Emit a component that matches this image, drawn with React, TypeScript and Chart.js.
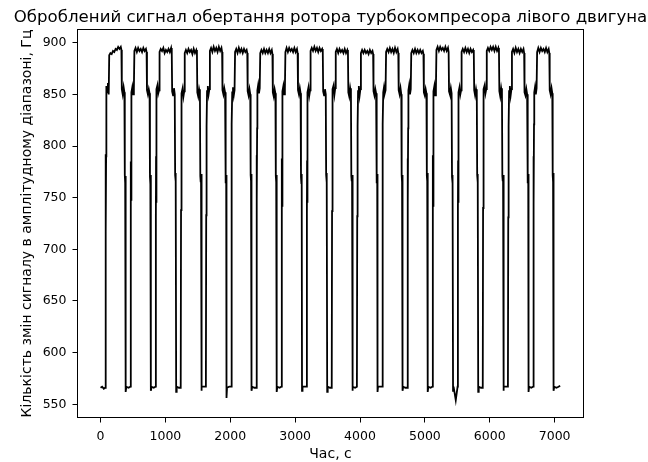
import React, { useEffect, useRef } from "react";
import { Chart, registerables } from "chart.js";

Chart.register(...registerables);

const chartTitle = "Оброблений сигнал обертання ротора турбокомпресора лівого двигуна";
const xAxisLabel = "Час, с";
const yAxisLabel = "Кількість змін сигналу в амплітудному діапазоні, Гц";

const xTicks = [0, 1000, 2000, 3000, 4000, 5000, 6000, 7000];
const yTicks = [550, 600, 650, 700, 750, 800, 850, 900];

// time, s
const timeS = [
  0, 25, 50,
  72, 77, 80, 82, 86, 90, 102, 114, 126, 134, 152, 172, 192, 212, 232, 252, 272, 292, 312, 322, 328, 342, 356, 368, 374, 380, 385, 390, 398, 432,
  460, 465, 468, 470, 474, 478, 490, 502, 514, 522, 540, 560, 580, 600, 620, 640, 660, 680, 700, 710, 716, 730, 744, 756, 762, 768, 773, 778, 786, 820,
  848, 853, 856, 858, 862, 866, 878, 890, 902, 910, 928, 948, 968, 988, 1008, 1028, 1048, 1068, 1088, 1098, 1104, 1118, 1132, 1144, 1150, 1156, 1161, 1166, 1174, 1208,
  1236, 1241, 1244, 1246, 1250, 1254, 1266, 1278, 1290, 1298, 1316, 1336, 1356, 1376, 1396, 1416, 1436, 1456, 1476, 1486, 1492, 1506, 1520, 1532, 1538, 1544, 1549, 1554, 1562, 1596,
  1624, 1629, 1632, 1634, 1638, 1642, 1654, 1666, 1678, 1686, 1704, 1724, 1744, 1764, 1784, 1804, 1824, 1844, 1864, 1874, 1880, 1894, 1908, 1920, 1926, 1932, 1937, 1942, 1950, 1984,
  2012, 2017, 2020, 2022, 2026, 2030, 2042, 2054, 2066, 2074, 2092, 2112, 2132, 2152, 2172, 2192, 2212, 2232, 2252, 2262, 2268, 2282, 2296, 2308, 2314, 2320, 2325, 2330, 2338, 2372,
  2400, 2405, 2408, 2410, 2414, 2418, 2430, 2442, 2454, 2462, 2480, 2500, 2520, 2540, 2560, 2580, 2600, 2620, 2640, 2650, 2656, 2670, 2684, 2696, 2702, 2708, 2713, 2718, 2726, 2760,
  2788, 2793, 2796, 2798, 2802, 2806, 2818, 2830, 2842, 2850, 2868, 2888, 2908, 2928, 2948, 2968, 2988, 3008, 3028, 3038, 3044, 3058, 3072, 3084, 3090, 3096, 3101, 3106, 3114, 3148,
  3176, 3181, 3184, 3186, 3190, 3194, 3206, 3218, 3230, 3238, 3256, 3276, 3296, 3316, 3336, 3356, 3376, 3396, 3416, 3426, 3432, 3446, 3460, 3472, 3478, 3484, 3489, 3494, 3502, 3536,
  3564, 3569, 3572, 3574, 3578, 3582, 3594, 3606, 3618, 3626, 3644, 3664, 3684, 3704, 3724, 3744, 3764, 3784, 3804, 3814, 3820, 3834, 3848, 3860, 3866, 3872, 3877, 3882, 3890, 3924,
  3952, 3957, 3960, 3962, 3966, 3970, 3982, 3994, 4006, 4014, 4032, 4052, 4072, 4092, 4112, 4132, 4152, 4172, 4192, 4202, 4208, 4222, 4236, 4248, 4254, 4260, 4265, 4270, 4278, 4312,
  4340, 4345, 4348, 4350, 4354, 4358, 4370, 4382, 4394, 4402, 4420, 4440, 4460, 4480, 4500, 4520, 4540, 4560, 4580, 4590, 4596, 4610, 4624, 4636, 4642, 4648, 4653, 4658, 4666, 4700,
  4728, 4733, 4736, 4738, 4742, 4746, 4758, 4770, 4782, 4790, 4808, 4828, 4848, 4868, 4888, 4908, 4928, 4948, 4968, 4978, 4984, 4998, 5012, 5024, 5030, 5036, 5041, 5046, 5054, 5088,
  5116, 5121, 5124, 5126, 5130, 5134, 5146, 5158, 5170, 5178, 5196, 5216, 5236, 5256, 5276, 5296, 5316, 5336, 5356, 5366, 5372, 5386, 5400, 5412, 5418, 5424, 5429, 5434, 5442, 5476,
  5504, 5509, 5512, 5514, 5518, 5522, 5534, 5546, 5558, 5566, 5584, 5604, 5624, 5644, 5664, 5684, 5704, 5724, 5744, 5754, 5760, 5774, 5788, 5800, 5806, 5812, 5817, 5822, 5830, 5864,
  5892, 5897, 5900, 5902, 5906, 5910, 5922, 5934, 5946, 5954, 5972, 5992, 6012, 6032, 6052, 6072, 6092, 6112, 6132, 6142, 6148, 6162, 6176, 6188, 6194, 6200, 6205, 6210, 6218, 6252,
  6280, 6285, 6288, 6290, 6294, 6298, 6310, 6322, 6334, 6342, 6360, 6380, 6400, 6420, 6440, 6460, 6480, 6500, 6520, 6530, 6536, 6550, 6564, 6576, 6582, 6588, 6593, 6598, 6606, 6640,
  6668, 6673, 6676, 6678, 6682, 6686, 6698, 6710, 6722, 6730, 6748, 6768, 6788, 6808, 6828, 6848, 6868, 6888, 6908, 6918, 6924, 6938, 6952, 6964, 6970, 6976, 6981, 6986, 6994, 7028,
  7060, 7085,
];

// signal, Hz
const signalHz = [
  566, 567, 565,
  566, 720, 792, 716, 790, 858, 852, 861, 850, 888, 890, 889, 892, 891, 894, 893, 896, 894, 896, 893, 855, 850, 857, 852, 772, 764, 771, 562, 567, 566,
  567, 740, 785, 748, 818, 852, 857, 850, 856, 892, 895, 891, 895, 892, 894, 891, 895, 892, 894, 891, 854, 850, 855, 851, 770, 763, 772, 563, 567, 566,
  567, 730, 790, 745, 822, 855, 859, 851, 854, 891, 894, 892, 895, 890, 893, 891, 894, 891, 895, 890, 853, 849, 856, 850, 772, 766, 774, 562, 567, 566,
  566, 738, 786, 740, 815, 851, 856, 848, 853, 890, 893, 890, 894, 891, 893, 889, 894, 890, 893, 890, 852, 848, 855, 851, 771, 765, 773, 563, 567, 567,
  567, 733, 789, 744, 819, 853, 858, 850, 855, 892, 895, 891, 896, 892, 895, 891, 896, 892, 895, 891, 854, 850, 856, 852, 770, 764, 772, 556, 566, 567,
  567, 736, 787, 743, 821, 852, 857, 849, 854, 891, 894, 890, 895, 891, 894, 890, 894, 891, 893, 890, 853, 849, 855, 850, 772, 766, 773, 563, 567, 566,
  566, 731, 791, 746, 817, 854, 859, 851, 856, 890, 893, 890, 894, 890, 893, 890, 894, 890, 893, 889, 852, 848, 855, 851, 771, 765, 772, 562, 567, 566,
  567, 739, 788, 742, 820, 853, 858, 850, 855, 891, 895, 891, 895, 892, 894, 891, 895, 891, 894, 890, 854, 850, 856, 851, 770, 764, 773, 563, 567, 567,
  567, 734, 786, 745, 818, 852, 857, 849, 854, 892, 895, 892, 896, 892, 895, 891, 895, 892, 894, 891, 853, 849, 855, 850, 772, 765, 774, 562, 567, 566,
  566, 737, 790, 741, 822, 855, 859, 850, 856, 891, 894, 890, 894, 891, 893, 890, 894, 890, 893, 890, 852, 848, 856, 851, 771, 766, 772, 563, 567, 566,
  567, 732, 787, 744, 819, 853, 858, 849, 855, 890, 893, 890, 893, 890, 892, 889, 893, 890, 892, 889, 853, 849, 855, 851, 770, 764, 773, 562, 567, 567,
  567, 738, 789, 746, 821, 852, 857, 851, 854, 891, 894, 891, 895, 891, 894, 890, 895, 891, 894, 890, 854, 850, 856, 850, 772, 765, 772, 563, 567, 566,
  566, 735, 788, 743, 817, 854, 859, 850, 855, 890, 893, 890, 894, 890, 893, 890, 893, 890, 892, 889, 852, 849, 855, 851, 771, 766, 774, 562, 567, 566,
  567, 733, 791, 742, 820, 853, 858, 849, 856, 893, 896, 892, 896, 893, 895, 892, 896, 892, 895, 891, 853, 850, 856, 851, 770, 764, 772, 563, 567, 554,
  567, 736, 786, 745, 818, 852, 857, 850, 854, 891, 894, 891, 895, 891, 894, 890, 894, 891, 893, 890, 854, 849, 855, 850, 772, 765, 773, 562, 567, 566,
  566, 740, 789, 741, 822, 855, 859, 851, 855, 892, 895, 892, 896, 893, 896, 892, 896, 892, 895, 891, 853, 848, 856, 851, 771, 766, 772, 563, 567, 567,
  567, 731, 787, 744, 819, 853, 858, 849, 855, 891, 894, 890, 895, 891, 894, 890, 894, 891, 894, 890, 852, 849, 855, 850, 770, 764, 773, 562, 567, 566,
  567, 737, 790, 743, 821, 852, 857, 850, 856, 891, 895, 891, 895, 892, 894, 891, 895, 891, 894, 890, 854, 850, 856, 851, 772, 765, 774, 563, 567, 566,
  567, 568,
];

const FONT = "'DejaVu Sans', sans-serif";
const AREA = { left: 77.5, right: 583.5, top: 29.5, bottom: 417.5 };

export default function App() {
  const ref = useRef<HTMLCanvasElement | null>(null);

  useEffect(() => {
    if (!ref.current) return;
    const points = timeS.map((t, i) => ({ x: t, y: signalHz[i] }));

    const decor = {
      id: "decor",
      afterDraw(chart: any) {
        const { ctx, chartArea } = chart;
        const { left, right, top, bottom } = chartArea;
        ctx.save();
        ctx.strokeStyle = "#000";
        ctx.lineWidth = 1;
        ctx.strokeRect(left, top, right - left, bottom - top);
        ctx.fillStyle = "#000";
        const cx = (left + right) / 2;
        ctx.textAlign = "center";
        ctx.textBaseline = "alphabetic";
        ctx.font = `16.6px ${FONT}`;
        ctx.fillText(chartTitle, cx, 21.5);
        ctx.font = `14px ${FONT}`;
        ctx.fillText(xAxisLabel, cx, 458);
        ctx.translate(30.5, (top + bottom) / 2);
        ctx.rotate(-Math.PI / 2);
        ctx.fillText(yAxisLabel, 0, 0);
        ctx.restore();
      },
    };

    const chart = new Chart(ref.current, {
      type: "line",
      data: {
        datasets: [
          {
            data: points,
            borderColor: "#000",
            borderWidth: 1.8,
            pointRadius: 0,
            fill: false,
            tension: 0,
          },
        ],
      },
      options: {
        responsive: false,
        animation: false,
        events: [],
        layout: {
          autoPadding: false,
          padding: { left: 0, top: AREA.top, right: 648 - AREA.right, bottom: 0 },
        },
        plugins: {
          legend: { display: false },
          title: { display: false },
          tooltip: { enabled: false },
        },
        scales: {
          x: {
            type: "linear",
            min: -355,
            max: 7445,
            afterFit(scale: any) {
              scale.height = 462 - AREA.bottom;
            },
            afterBuildTicks(scale: any) {
              scale.ticks = xTicks.map((v) => ({ value: v }));
            },
            border: { display: false },
            grid: {
              display: true,
              drawOnChartArea: false,
              drawTicks: true,
              tickLength: 5,
              color: "#000",
              lineWidth: 1,
            },
            ticks: {
              color: "#000",
              font: { family: FONT, size: 12.5 },
              padding: 7,
              maxRotation: 0,
              autoSkip: false,
              callback: (v: any) => String(v),
            },
          },
          y: {
            type: "linear",
            min: 537.2,
            max: 912.8,
            afterFit(scale: any) {
              scale.width = AREA.left;
            },
            afterBuildTicks(scale: any) {
              scale.ticks = yTicks.map((v) => ({ value: v }));
            },
            border: { display: false },
            grid: {
              display: true,
              drawOnChartArea: false,
              drawTicks: true,
              tickLength: 5,
              color: "#000",
              lineWidth: 1,
            },
            ticks: {
              color: "#000",
              font: { family: FONT, size: 12.5 },
              padding: 6,
              autoSkip: false,
              callback: (v: any) => String(v),
            },
          },
        },
      },
      plugins: [decor],
    });

    return () => chart.destroy();
  }, []);

  return (
    <div style={{ position: "fixed", left: 0, top: 0, width: 648, height: 462, background: "#fff" }}>
      <canvas ref={ref} width={648} height={462} style={{ display: "block", width: 648, height: 462 }} />
    </div>
  );
}
